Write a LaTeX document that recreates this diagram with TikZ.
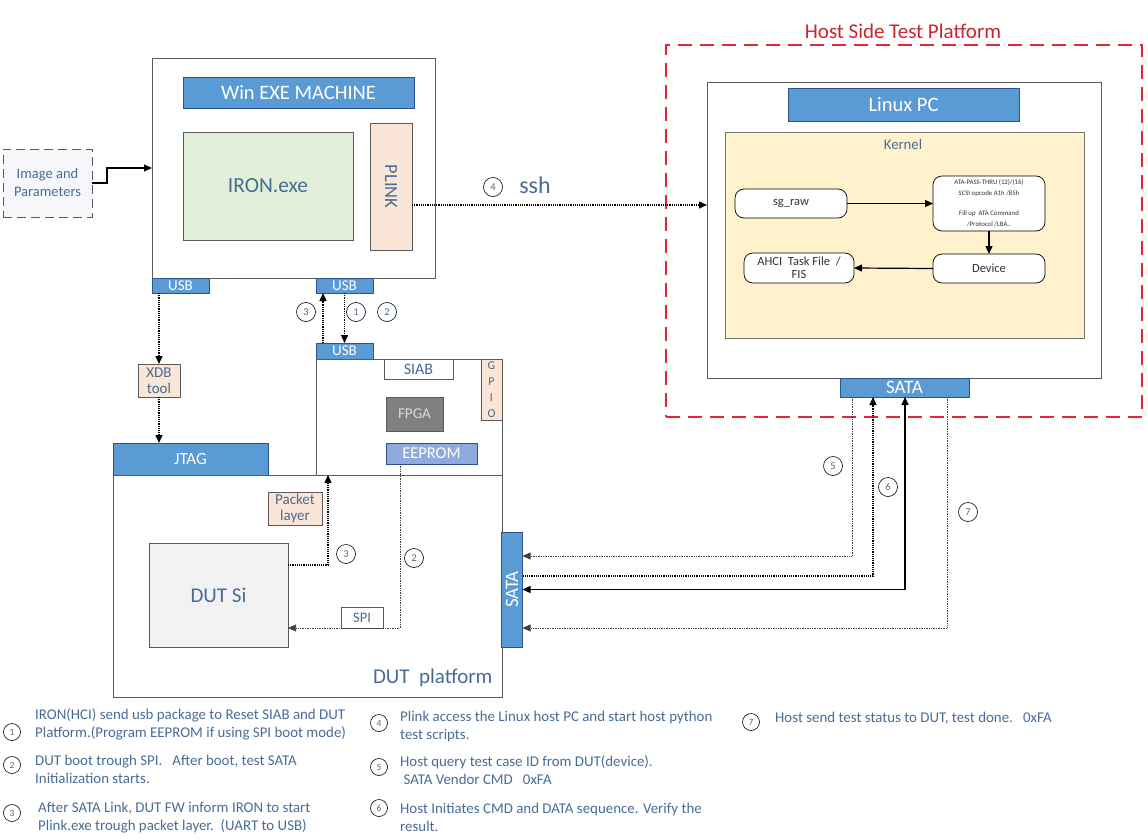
\documentclass[tikz,border=0pt]{standalone}
\usepackage{fontspec}
\setmainfont{Carlito}
\usepackage{graphicx}
\usetikzlibrary{arrows.meta,calc}
\definecolor{TxtCol}  {RGB}{72,108,150}
\definecolor{HdrFill} {RGB}{91,155,213}
\definecolor{HdrLine} {RGB}{46,84,140}
\definecolor{FrmLine} {RGB}{90,90,90}
\definecolor{IronFill}{RGB}{226,239,217}
\definecolor{PchFill} {RGB}{251,229,214}
\definecolor{FpgaFill}{RGB}{128,128,128}
\definecolor{EepFill} {RGB}{143,170,220}
\definecolor{KrnFill} {RGB}{255,242,204}
\definecolor{DutFill} {RGB}{242,242,242}
\definecolor{ImgFill} {RGB}{246,247,251}
\definecolor{HostRed} {RGB}{225,40,50}
\tikzset{
  sz/.style 2 args={minimum width=#1pt,minimum height=#2pt},
  bx/.style={rectangle,inner sep=0pt,outer sep=0pt},
  nd_frame/.style={bx,draw=FrmLine,fill=white,line width=0.8pt},
  nd_hdr/.style={bx,draw=HdrLine,fill=HdrFill,text=white,line width=0.8pt,font=\fontsize{20.5}{22}\selectfont},
  nd_port/.style={bx,draw=HdrLine,fill=HdrFill,text=white,line width=0.6pt,font=\fontsize{15}{16}\selectfont},
  nd_pch/.style={bx,draw=FrmLine,fill=PchFill,text=TxtCol,line width=0.6pt,align=center,font=\fontsize{15}{16.5}\selectfont},
  nd_box/.style={bx,draw=FrmLine,text=TxtCol,line width=0.8pt,align=center,font=\fontsize{15}{17}\selectfont},
  nd_rnd/.style={bx,rounded corners=9pt,draw=black,fill=white,line width=0.7pt,align=center,text=black!80,font=\fontsize{12.5}{13}\selectfont},
  nd_num/.style={circle,draw=black,line width=0.6pt,inner sep=0pt,minimum size=19pt,text=TxtCol,font=\fontsize{10.5}{10.5}\selectfont},
  nd_lnum/.style={nd_num,minimum size=17pt,font=\fontsize{9.5}{9.5}\selectfont},
  nd_lgd/.style={anchor=west,inner sep=0pt,align=left,text=TxtCol,font=\fontsize{14.9}{18}\selectfont},
  arr/.style={-{Triangle[length=8pt,width=7pt]},line width=1.2pt},
  arr_dot/.style={arr,densely dotted,line width=1.4pt},
  arr_thin/.style={-{Triangle[length=8pt,width=7pt]},densely dotted,line width=0.7pt,draw=black!75},
  arr_both/.style={{Triangle[length=8pt,width=7pt]}-{Triangle[length=8pt,width=7pt]},line width=1.3pt},
}
\begin{document}
\begin{tikzpicture}[x=1pt,y=-1pt]
\useasboundingbox (0,0) rectangle (1148,840);

% LEFT: Win EXE machine
\node[nd_frame,sz={283}{220}] at (293.5,168) (win){};
\node[nd_hdr,sz={231}{31}]    at (298.5,92.5) (winhdr){Win EXE MACHINE};
\node[nd_box,fill=IronFill,sz={170}{108},font=\fontsize{21.5}{23}\selectfont] at (268,186) (iron){IRON.exe};
\node[nd_pch,sz={42}{127},font=\fontsize{18.5}{20}\selectfont] at (391,186.5) (plink){\rotatebox{-90}{PLINK}};
\node[bx,draw=black!65,dash pattern=on 9pt off 5pt,line width=0.9pt,fill=ImgFill,sz={89}{68},align=center,text=TxtCol,font=\fontsize{14.5}{18}\selectfont] at (47.5,183) (imgpar){Image and\\Parameters};
\node[nd_port,sz={57}{15}] at (180.5,285.5) (usbA){USB};
\node[nd_port,sz={57}{15}] at (344.5,285.5) (usbB){USB};

\draw[arr](imgpar.east)--++(15,0)|-(win.west);

% SIAB board
\node[nd_port,sz={57}{16}] at (344.5,351) (usbC){USB};
\node[nd_frame,sz={186}{116}] at (409,417) (siab){};
\node[nd_box,fill=white,sz={69}{20},font=\fontsize{16}{17}\selectfont] at (418.5,369) (siablbl){SIAB};
\node[nd_pch,sz={21}{61},font=\fontsize{12}{16}\selectfont] at (491.5,389.5) (gpio){G\\P\\I\\O};
\node[nd_box,fill=FpgaFill,text=white!85!black,sz={57}{34}] at (414.5,414) (fpga){FPGA};
\node[nd_box,draw=HdrLine,fill=EepFill,text=white,sz={91}{21},font=\fontsize{16.5}{17}\selectfont] at (431.5,453.5) (eeprom){EEPROM};

\draw[arr_dot]($(usbC.north)+(-21.5,0)$)--($(usbB.south)+(-21.5,0)$);
\draw[arr_dot](usbB.south)--(usbC.north);
\node[nd_num] at (306,312) (n3a){3};
\node[nd_num] at (356,312) (n1a){1};
\node[nd_num] at (387,312) (n2a){2};

% XDB / JTAG
\node[nd_pch,sz={42}{33}] at (159,380.5) (xdb){XDB\\tool};
\node[nd_port,sz={155}{32},font=\fontsize{17}{18}\selectfont] at (190.5,459) (jtag){JTAG};
\draw[arr_dot](xdb.north|-usbA.south)--(xdb.north);
\draw[arr_dot](xdb.south)--(xdb.south|-jtag.north);

% DUT platform
\node[nd_frame,fill=none,sz={389}{222}] at (307.5,586) (dutplat){};
\node[text=TxtCol,font=\fontsize{21}{23}\selectfont,anchor=east] at (496,678) (dutlbl){DUT~ platform};
\node[nd_pch,sz={54}{33}] at (295,508.5) (pkt){Packet\\layer};
\node[nd_box,fill=DutFill,sz={139}{104},font=\fontsize{21}{23}\selectfont] at (218.5,595) (dutsi){DUT Si};
\node[nd_box,fill=white,sz={42}{21},font=\fontsize{14.5}{15}\selectfont] at (362,617.5) (spi){SPI};
\node[nd_port,sz={21}{115},font=\fontsize{19}{20}\selectfont] at (512,589.5) (sataD){\rotatebox{90}{SATA}};

\draw[arr_dot]($(dutsi.east)+(0,-30)$)-|($(siab.south)+(-81,0)$);
\draw[arr_thin]($(eeprom.south)+(-31.5,0)$)|-($(dutsi.east)+(0,33)$);
\node[nd_num] at (346,554) (n3b){3};
\node[nd_num] at (414,558) (n2b){2};

% RIGHT: Host side
\node[bx,draw=HostRed,dash pattern=on 14pt off 8pt,line width=1.2pt,sz={476}{372}] at (904,231) (host){};
\node[text=HostRed!90!black,font=\fontsize{21}{22}\selectfont] at (903,31) (hosttitle){Host Side Test Platform};
\node[nd_frame,sz={394}{296}] at (904,230) (linux){};
\node[nd_hdr,sz={231}{33}] at (903.5,104.5) (linuxhdr){Linux PC};
\node[nd_frame,fill=KrnFill,draw=black!55,sz={359}{206}] at (904.5,235) (kernel){};
\node[text=TxtCol,font=\fontsize{14.7}{15}\selectfont] at (903,144) (krnlbl){Kernel};
\node[nd_rnd,sz={112}{29}] at (791,203.5) (sgraw){sg\_raw};
\node[nd_rnd,sz={112}{55},font=\fontsize{6.8}{11}\selectfont] at (989,203.5) (ata){ATA-PASS-THRU (12)/(16)\\SCSI opcode A1h /85h\\[9pt]Fill up~ ATA Command\\/Protocol /LBA..};
\node[nd_rnd,sz={112}{29}] at (989,268.5) (device){Device};
\node[nd_rnd,sz={110}{30},font=\fontsize{12.5}{13}\selectfont] at (799,268) (ahci){AHCI~ Task File~ /\\FIS};
\node[nd_port,sz={129}{19},font=\fontsize{19}{20}\selectfont] at (904.5,387.5) (sataH){SATA};

\draw[arr](sgraw.east)--(ata.west);
\draw[arr](ata.south)--(device.north);
\draw[arr](device.west)--(ahci.east);

% ssh link
\coordinate (ssh_s) at ($(plink.east)+(0,18.5)$);
\draw[arr_dot](ssh_s)--(ssh_s-|linux.west);
\node[nd_num] at (493,187) (n4a){4};
\node[text=TxtCol,font=\fontsize{24}{25}\selectfont] at (535,185) (sshlbl){ssh};

% SATA links
\draw[arr_thin]($(sataH.south)+(-52.5,0)$)|-($(sataD.east)+(0,-33.5)$);
\draw[arr_dot,line width=1.1pt]($(sataD.east)+(0,-13.5)$)-|($(sataH.south)+(-31.5,0)$);
\draw[arr_both]($(sataH.south)+(0.5,0)$)|-(sataD.east);
\draw[arr_thin]($(sataH.south)+(42.5,0)$)|-($(sataD.east)+(0,38.5)$);
\node[nd_num] at (833,466) (n5a){5};
\node[nd_num] at (888,487) (n6a){6};
\node[nd_num] at (968,512) (n7a){7};

% legend
\node[nd_lnum] at (12,732) (l1){1};
\node[nd_lgd]  at (35,724) (t1){IRON(HCI) send usb package to Reset SIAB and DUT\\Platform.(Program EEPROM if using SPI boot mode)};
\node[nd_lnum] at (12,765) (l2){2};
\node[nd_lgd]  at (35,769) (t2){DUT boot trough SPI.\ \ \ After boot, test SATA\\Initialization starts.};
\node[nd_lnum] at (12,813) (l3){3};
\node[nd_lgd]  at (38,817.5) (t3){After SATA Link, DUT FW inform IRON to start\\Plink.exe trough packet layer.\ \ (UART to USB)};
\node[nd_lnum] at (379,723) (l4){4};
\node[nd_lgd]  at (400,727) (t4){Plink access the Linux host PC and start host python\\test scripts.};
\node[nd_lnum] at (379,767) (l5){5};
\node[nd_lgd]  at (400,770) (t5){Host query test case ID from DUT(device).\\\ SATA Vendor CMD\ \ \ 0xFA};
\node[nd_lnum] at (379,808) (l6){6};
\node[nd_lgd]  at (400,817) (t6){Host Initiates CMD and DATA sequence. Verify the\\result.};
\node[nd_lnum] at (751,722) (l7){7};
\node[nd_lgd]  at (775,718) (t7){Host send test status to DUT, test done.\ \ \ 0xFA};

\end{tikzpicture}
\end{document}
